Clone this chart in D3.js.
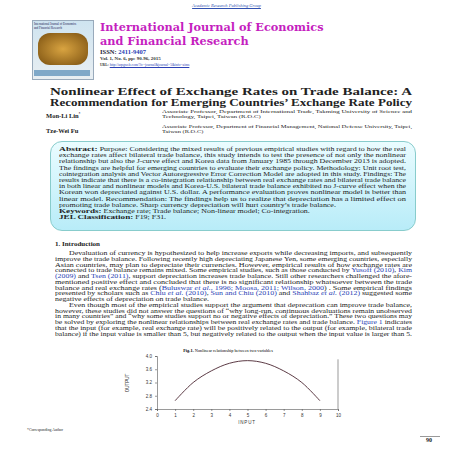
<!DOCTYPE html>
<html><head><meta charset="utf-8">
<script src="https://cdn.jsdelivr.net/npm/d3@7"></script>
<style>
body{margin:0;width:453px;height:453px;background:#fff;position:relative;overflow:hidden;font-family:"Liberation Serif",serif;color:#222}
.a{position:absolute;white-space:nowrap}
.b{color:#2a3fb5}
</style></head><body>
<div class="a" style="top:3px;left:0;width:453px;text-align:center;font-size:4.5px;color:#3050b0;font-style:italic;text-decoration:underline">Academic Research Publishing Group</div>
<div class="a" style="left:32px;top:20px;width:60px;height:58px;background:linear-gradient(#cfe4f0,#e8eef2);border:1px solid #9ab"></div>
<div class="a" style="left:34px;top:22px;font-size:3px;color:#225">International Journal of Economics<br>and Financial Research</div>
<div class="a" style="left:38px;top:33px;width:50px;height:32px;border-radius:12px;background:radial-gradient(#d9a441,#7a5010)"></div>
<div class="a" style="left:34px;top:70px;width:56px;height:6px;background:#7fa8c8"></div>
<div class="a" style="left:100px;top:21px;font-family:'DejaVu Serif';font-weight:bold;font-size:11.3px;line-height:13.5px;color:#c51fbf">International Journal of Economics<br>and Financial Research</div>
<div class="a" style="left:100px;top:48px;font-size:6.5px;font-weight:bold;color:#223">ISSN: <span class="b">2411-9407</span></div>
<div class="a" style="left:100px;top:56px;font-size:5px;font-weight:bold;color:#333">Vol. 1, No. 6, pp: 90-96, 2015</div>
<div class="a" style="left:100px;top:63px;font-size:3.6px;color:#333"><b>URL:</b> <span class="b" style="text-decoration:underline">http://arpgweb.com/?ic=journal&amp;journal=5&amp;info=aims</span></div>
<div id="ttl"></div>
<div class="a" style="left:46px;top:112px;font-size:6.5px;font-weight:bold">Mon-Li Lin<sup style="font-size:3px">*</sup></div>
<div class="a" style="left:46px;top:127px;font-size:6.5px;font-weight:bold">Tze-Wei Fu</div>
<div id="aff"></div>
<div class="a" style="left:50px;top:141px;width:364px;height:88px;border:1px solid #8cc;border-radius:12px;background:linear-gradient(#eafcff,#b8ecf8)"></div>
<div id="abs"></div>
<div class="a" style="left:55px;top:240px;font-size:7px;font-weight:bold">1. Introduction</div>
<div id="intro"></div>
<div class="a" style="left:27px;top:428px;font-size:3.8px">*Corresponding Author</div>
<div class="a" style="left:420px;top:436px;width:20px;border-top:0.5px solid #999"></div>
<div class="a" style="left:426px;top:437px;font-size:6px;font-weight:bold">90</div>
<svg id="c" class="a" style="left:0;top:0" width="453" height="453"></svg>
<script>
const inputX=[1,2,3,4,5,6,7,8,9];
const outputY=[2.65,3.2,3.55,3.78,3.86,3.78,3.55,3.2,2.65];
const xTicks=[0,1,2,3,4,5,6,7,8,9,10];
const yTicks=[2.4,2.8,3.2,3.6,4.0];

function lines(id,arr,left,top,width,lh,fs,lastIdx,bold){
  const el=d3.select('#'+id);
  let sum=0,n=0;const divs=[];
  arr.forEach((t,i)=>{
    const w=width-(t.ind||0);
    const d=el.append('div').attr('class','a')
      .style('left',(left+(t.ind||0))+'px').style('top',(top+i*lh)+'px')
      .style('font-size',fs+'px').style('line-height',lh+'px')
      .style('font-weight',bold?'bold':null).style('transform-origin','0 0').html(t.s);
    const s=w/d.node().getBoundingClientRect().width;
    if(!lastIdx.includes(i)){sum+=s;n++;d.style('transform','scaleX('+s+')');}
    else divs.push([d,s]);
  });
  const avg=n?sum/n:1;
  divs.forEach(([d,s])=>d.style('transform','scaleX('+Math.min(avg,s)+')'));
}
lines('ttl',[{s:'Nonlinear Effect of Exchange Rates on Trade Balance: A'},{s:'Recommendation for Emerging Countries’ Exchange Rate Policy'}],50,86,362,11,9.6,[],true);
lines('aff',[{s:'Associate Professor, Department of International Trade, Takming University of Science and'},{s:'Technology, Taipei, Taiwan (R.O.C)'}],162,110,250,4.8,4.3,[1]);
lines('aff',[{s:'Associate Professor, Department of Financial Management, National Defense University, Taipei,'},{s:'Taiwan (R.O.C)'}],162,125,250,4.8,4.3,[1]);

const absL=[
'<b style="font-size:1.2em">Abstract:</b> Purpose: Considering the mixed results of previous empirical studies with regard to how the real',
'exchange rates affect bilateral trade balance, this study intends to test the presence of not only the nonlinear',
'relationship but also the J-curve effect and Korea data from January 1985 through December 2013 is adopted.',
'The findings are helpful for emerging countries to evaluate their exchange policy. Methodology: Unit root test,',
'cointegration analysis and Vector Autoregressive Error Correction Model are adopted in this study. Findings: The',
'results indicate that there is a co-integration relationship between real exchange rates and bilateral trade balance',
'in both linear and nonlinear models and Korea-U.S. bilateral trade balance exhibited no J-curve effect when the',
'Korean won depreciated against U.S. dollar. A performance evaluation proves nonlinear model is better than',
'linear model. Recommendation: The findings help us to realize that depreciation has a limited effect on',
'promoting trade balance. Sharp currency depreciation will hurt country’s trade balance.',
'<b style="font-size:1.15em">Keywords:</b> Exchange rate; Trade balance; Non-linear model; Co-integration.',
'<b style="font-size:1.15em">JEL Classification:</b> F19; F31.'
].map(s=>({s}));
lines('abs',absL,59,146,347,6.2,5.6,[9,10,11]);

const introL=[
{s:'Devaluation of currency is hypothesized to help increase exports while decreasing imports, and subsequently',ind:14},
{s:'improve the trade balance. Following recently high depreciating Japanese Yen, some emerging countries, especially'},
{s:'Asian countries, may plan to depreciate their currencies. However, empirical results of how exchange rates are'},
{s:'connected to trade balance remains mixed. Some empirical studies, such as those conducted by <span class="b">Yusoff (2010)</span>, <span class="b">Kim</span>'},
{s:'<span class="b">(2009)</span> and <span class="b">Tsen (2011)</span>, support depreciation increases trade balance. Still other researchers challenged the afore-'},
{s:'mentioned positive effect and concluded that there is no significant relationship whatsoever between the trade'},
{s:'balance and real exchange rates (<span class="b">Buluswar <i>et al.</i>, 1996; Moosa, 2011; Wilson, 2000</span>) . Some empirical findings'},
{s:'presented by scholars such as <span class="b">Chiu <i>et al.</i> (2010)</span>, <span class="b">Sun and Chiu (2010)</span> and <span class="b">Shahbaz <i>et al.</i> (2012)</span> suggested some'},
{s:'negative effects of depreciation on trade balance.'},
{s:'Even though most of the empirical studies support the argument that deprecation can improve trade balance,',ind:14},
{s:'however, these studies did not answer the questions of “why long-run, continuous devaluations remain unobserved'},
{s:'in many countries” and “why some studies support no or negative effects of depreciation.” These two questions may'},
{s:'be solved by exploring the nonlinear relationships between real exchange rates and trade balance. <span class="b">Figure 1</span> indicates'},
{s:'that the input (for example, real exchange rate) will be positively related to the output (for example, bilateral trade'},
{s:'balance) if the input value is smaller than 5, but negatively related to the output when the input value is larger than 5.'}
];
lines('intro',introL,55,251,357,5.75,5.3,[8]);

const svg=d3.select('#c');
const x=d3.scaleLinear().domain([0,10]).range([157,338]);
const y=d3.scaleLinear().domain([2.4,4.0]).range([409,356]);
svg.append('text').attr('x',228).attr('y',352).attr('text-anchor','middle')
  .style('font-family','Liberation Serif').style('font-size','4.3px')
  .html('<tspan font-weight="bold">Fig-1.</tspan> Nonlinear relationship between two variables');
const ax=svg.append('g').attr('transform','translate(0,409)').call(d3.axisBottom(x).tickValues(xTicks).tickSize(2).tickFormat(d3.format('d')));
const ay=svg.append('g').attr('transform','translate(157,0)').call(d3.axisLeft(y).tickValues(yTicks).tickSize(2).tickFormat(d3.format('.1f')));
[ax,ay].forEach(g=>{g.selectAll('text').style('font-family','Liberation Sans').style('font-size','4.5px').attr('fill','#333');
  g.selectAll('line,path').attr('stroke','#555').attr('stroke-width',0.6);});
svg.append('line').attr('x1',338).attr('x2',338).attr('y1',y(3.9)).attr('y2',409).attr('stroke','#555').attr('stroke-width',0.6);
svg.append('path').datum(inputX.map((d,i)=>[d,outputY[i]]))
  .attr('d',d3.line().x(d=>x(d[0])).y(d=>y(d[1])).curve(d3.curveCatmullRom))
  .attr('fill','none').attr('stroke','#4a2530').attr('stroke-width',0.9);
svg.append('text').attr('x',247).attr('y',424).attr('text-anchor','middle')
  .style('font-family','Liberation Sans').style('font-size','4.5px').style('letter-spacing','0.8px').attr('fill','#333').text('INPUT');
svg.append('text').attr('transform','translate(129,383) rotate(-90)').attr('text-anchor','middle')
  .style('font-family','Liberation Sans').style('font-size','4.5px').attr('fill','#333').text('OUTPUT');
</script>
</body></html>
